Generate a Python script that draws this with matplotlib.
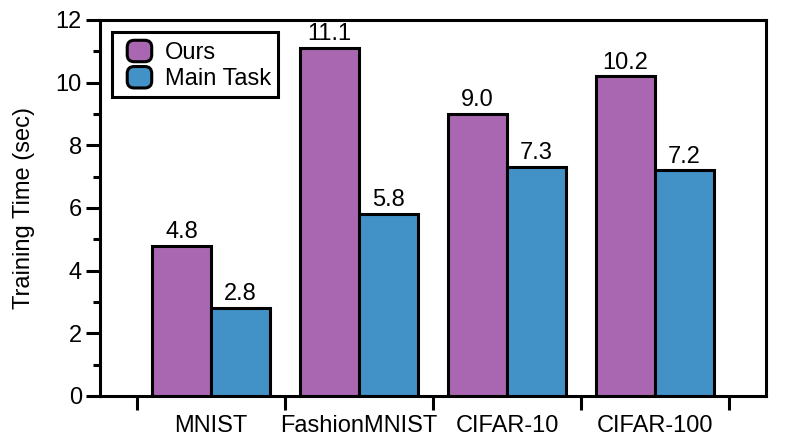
import matplotlib
matplotlib.use("Agg")
import matplotlib.pyplot as plt
import numpy as np
from matplotlib.legend_handler import HandlerPatch
from matplotlib.patches import FancyBboxPatch, Patch
from matplotlib.ticker import FixedLocator, MultipleLocator

plt.rcParams["font.family"] = ["Liberation Sans", "DejaVu Sans"]

datasets = ["MNIST", "FashionMNIST", "CIFAR-10", "CIFAR-100"]
ours = [4.8, 11.1, 9.0, 10.2]
main_task = [2.8, 5.8, 7.3, 7.2]
series_names = ["Ours", "Main Task"]

PURPLE = "#A967B1"
BLUE = "#4291C7"
LW = 2.2
FS = 17


def rounded_handle(legend, orig_handle, xdescent, ydescent, width, height, fontsize):
    """Rounded square swatch for legend entries (shifted right to widen the left pad)."""
    shift = 5
    return FancyBboxPatch(
        (-xdescent + shift + 1, -ydescent + 1), width - shift - 2, height - 2,
        boxstyle="round,pad=0,rounding_size=5",
        mutation_aspect=1,
    )


fig = plt.figure(figsize=(7.93, 4.41), dpi=100)
ax = fig.add_axes([100 / 793, 45 / 441, 666 / 793, 376 / 441])

x = np.arange(len(datasets))
width = 0.4
bars_ours = ax.bar(x - width / 2, ours, width, color=PURPLE, edgecolor="black", linewidth=LW, zorder=2)
bars_main = ax.bar(x + width / 2, main_task, width, color=BLUE, edgecolor="black", linewidth=LW, zorder=2)

for bars in (bars_ours, bars_main):
    ax.bar_label(bars, fmt="%.1f", padding=2, fontsize=FS)

ax.set_xlim(-0.75, len(datasets) - 0.25)
ax.set_ylim(0, 12)

# group separators as major ticks, dataset names on minor ticks
ax.xaxis.set_major_locator(FixedLocator(np.arange(-0.5, len(datasets), 1.0)))
ax.xaxis.set_major_formatter(plt.NullFormatter())
ax.xaxis.set_minor_locator(FixedLocator(x))
ax.set_xticklabels(datasets, minor=True)
ax.tick_params(axis="x", which="major", direction="out", length=10, width=LW)
ax.tick_params(axis="x", which="minor", length=0, pad=14, labelsize=FS)

ax.yaxis.set_major_locator(MultipleLocator(2))
ax.yaxis.set_minor_locator(MultipleLocator(1))
ax.tick_params(axis="y", which="major", direction="out", length=10, width=LW, labelsize=FS, pad=3)
ax.tick_params(axis="y", which="minor", direction="out", length=5, width=LW)

ax.set_ylabel("Training Time (sec)", fontsize=FS, labelpad=15)

for spine in ax.spines.values():
    spine.set_linewidth(LW)

handles = [
    Patch(facecolor=PURPLE, edgecolor="black", linewidth=LW),
    Patch(facecolor=BLUE, edgecolor="black", linewidth=LW),
]
leg = ax.legend(
    handles, series_names, loc="upper left", fontsize=FS,
    fancybox=False, edgecolor="black", framealpha=1,
    handlelength=1.45, handleheight=1.2, labelspacing=0.05,
    handletextpad=0.5, borderpad=0.3, borderaxespad=0.5,
    handler_map={Patch: HandlerPatch(patch_func=rounded_handle)},
)
leg.get_frame().set_linewidth(LW)

fig.savefig("out.png", dpi=100)
